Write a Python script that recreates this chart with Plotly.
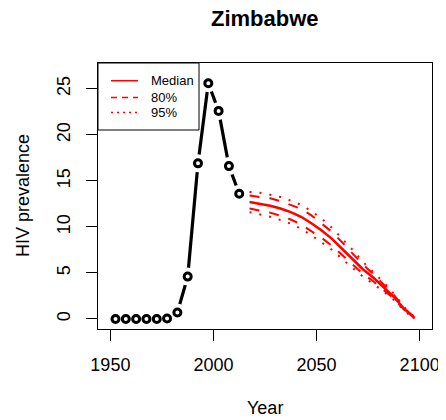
import plotly.graph_objects as go

# ---- data ----
obs_years = [1952.5, 1957.5, 1962.5, 1967.5, 1972.5, 1977.5, 1982.5, 1987.5,
             1992.5, 1997.5, 2002.5, 2007.5, 2012.5]
obs_values = [0.0, 0.0, 0.0, 0.0, 0.0, 0.05, 0.7, 4.6, 16.9, 25.6, 22.6, 16.6, 13.6]

proj_years = [2017.5, 2022.5, 2027.5, 2032.5, 2037.5, 2042.5, 2047.5, 2052.5,
              2057.5, 2062.5, 2067.5, 2072.5, 2077.5, 2082.5, 2087.5, 2092.5, 2097.5]
median = [12.7, 12.5, 12.3, 12.0, 11.6, 11.1, 10.4, 9.6, 8.7, 7.6, 6.5, 5.4, 4.5, 3.5, 2.4, 1.1, 0.1]
upper80 = [13.4, 13.25, 13.1, 12.8, 12.4, 11.95, 11.25, 10.4, 9.45, 8.3, 7.1, 5.9, 4.9, 3.8, 2.6, 1.2, 0.15]
lower80 = [12.0, 11.8, 11.55, 11.2, 10.8, 10.25, 9.55, 8.8, 7.95, 6.9, 5.9, 4.9, 4.1, 3.2, 2.2, 1.0, 0.05]
upper95 = [13.8, 13.7, 13.5, 13.25, 12.85, 12.4, 11.7, 10.9, 9.9, 8.75, 7.5, 6.2, 5.1, 4.0, 2.75, 1.3, 0.2]
lower95 = [11.6, 11.35, 11.1, 10.75, 10.35, 9.8, 9.1, 8.3, 7.5, 6.5, 5.5, 4.6, 3.8, 3.0, 2.05, 0.9, 0.02]

x_ticks = [1950, 2000, 2050, 2100]
y_ticks = [0, 5, 10, 15, 20, 25]
legend_labels = ["Median", "80%", "95%"]

FONT = "Liberation Sans, Arial, Helvetica, sans-serif"

fig = go.Figure()

# observed: line, white gap masks, open circles (R type="b")
fig.add_trace(go.Scatter(x=obs_years, y=obs_values, mode="lines",
                         line=dict(color="black", width=3.2), showlegend=False, hoverinfo="skip"))
fig.add_trace(go.Scatter(x=obs_years, y=obs_values, mode="markers",
                         marker=dict(color="white", size=18, line=dict(width=0)),
                         showlegend=False, hoverinfo="skip"))
fig.add_trace(go.Scatter(x=obs_years, y=obs_values, mode="markers",
                         marker=dict(color="white", size=7, line=dict(color="black", width=3)),
                         showlegend=False))

# projections
for ys in (upper95, lower95):
    fig.add_trace(go.Scatter(x=proj_years, y=ys, mode="lines",
                             line=dict(color="red", width=2, dash="2px,8px"), showlegend=False))
for ys in (upper80, lower80):
    fig.add_trace(go.Scatter(x=proj_years, y=ys, mode="lines",
                             line=dict(color="red", width=2, dash="10px,10px"), showlegend=False))
fig.add_trace(go.Scatter(x=proj_years, y=median, mode="lines",
                         line=dict(color="red", width=2.5), showlegend=False))

# page has an 8px body margin; the figure is shifted to compensate
OFF = 8
W, H = 446 - OFF, 420 - OFF
L, R_, T, B = 98, 432, 63, 329   # plot box in window pixels


def px(x):
    return (x - L) / (R_ - L)


def py(y):
    return (B - y) / (B - T)


shapes = [dict(type="rect", xref="paper", yref="paper", x0=0, x1=px(199), y0=py(130), y1=1,
               line=dict(color="black", width=1), fillcolor="white", layer="above")]
dashes = ["solid", "6px,5px", "2px,4px"]
ys_leg = [80.7, 97.5, 112.5]
annotations = []
for lab, d, yy in zip(legend_labels, dashes, ys_leg):
    shapes.append(dict(type="line", xref="paper", yref="paper", x0=px(111), x1=px(138),
                       y0=py(yy), y1=py(yy), line=dict(color="red", width=1.5, dash=d), layer="above"))
    annotations.append(dict(x=px(149), y=py(yy), xref="paper", yref="paper", text=lab,
                            showarrow=False, xanchor="left", yanchor="middle",
                            font=dict(family=FONT, size=13, color="black")))

annotations.append(dict(x=0.5, y=py(408), xref="paper", yref="paper", text="Year",
                        showarrow=False, xanchor="center", yanchor="middle",
                        font=dict(family=FONT, size=18, color="black")))
annotations.append(dict(x=px(23), y=0.5, xref="paper", yref="paper", text="HIV prevalence",
                        showarrow=False, xanchor="center", yanchor="middle", textangle=-90,
                        font=dict(family=FONT, size=18, color="black")))
annotations.append(dict(x=0.5, y=py(19), xref="paper", yref="paper", text="<b>Zimbabwe</b>",
                        showarrow=False, xanchor="center", yanchor="middle",
                        font=dict(family=FONT, size=22, color="black")))

fig.update_layout(
    width=W, height=H,
    margin=dict(l=L - OFF, r=446 - R_, t=T - OFF, b=420 - B, pad=0, autoexpand=False),
    paper_bgcolor="white", plot_bgcolor="white",
    shapes=shapes, annotations=annotations,
    font=dict(family=FONT, size=18, color="black"),
    showlegend=False,
)
fig.update_xaxes(range=[1944, 2106], tickvals=x_ticks, ticktext=[str(v) for v in x_ticks],
                 ticks="outside", ticklen=11, tickwidth=1, tickcolor="black",
                 showline=True, linecolor="black", linewidth=1, mirror=True,
                 showgrid=False, zeroline=False, ticklabelstandoff=8, automargin=False,
                 tickfont=dict(family=FONT, size=18, color="black"))
fig.update_yaxes(range=[-1.09, 27.8], tickvals=y_ticks, ticktext=[str(v) for v in y_ticks],
                 ticks="outside", ticklen=11, tickwidth=1, tickcolor="black",
                 showline=True, linecolor="black", linewidth=1, mirror=True,
                 showgrid=False, zeroline=False, tickangle=-90, ticklabelstandoff=9,
                 automargin=False,
                 tickfont=dict(family=FONT, size=18, color="black"))

fig.write_html("out.html")
